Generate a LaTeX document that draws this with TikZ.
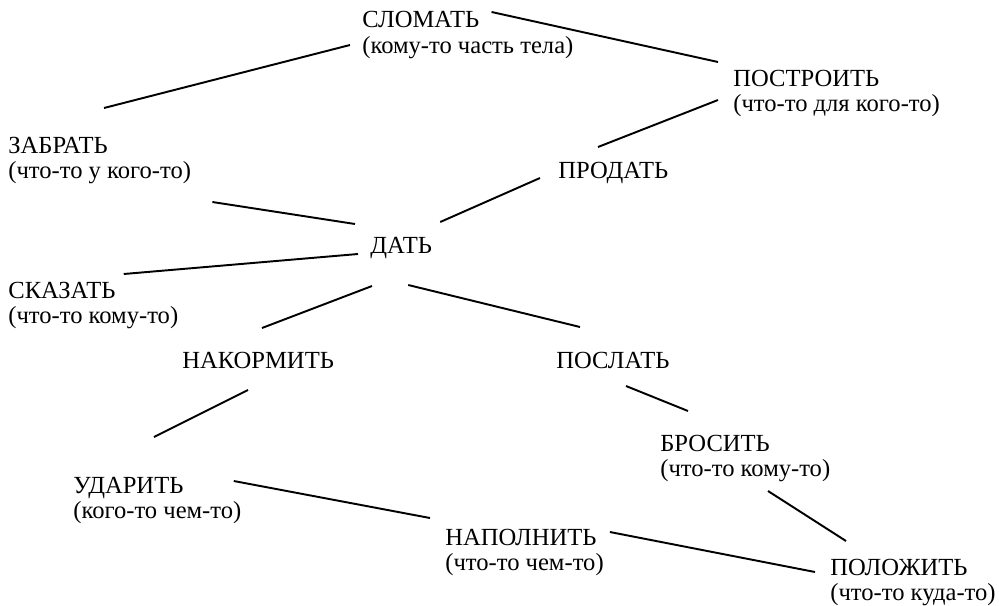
\documentclass[tikz,border=0pt]{standalone}
\usepackage{fontspec}
\setmainfont{Liberation Serif}
\usetikzlibrary{positioning}

\begin{document}
\begin{tikzpicture}[
x=0.02cm, y=-0.02cm,
verb/.style={inner sep=0pt, anchor=base west, font=\fontsize{14}{16}\selectfont},
gloss/.style={inner sep=0pt, anchor=base west, font=\fontsize{14}{16}\selectfont},
link/.style={line width=1.1pt}
]
\useasboundingbox (0,0) rectangle (999,605);

\node[verb] (slomat) at (362,28) {СЛОМАТЬ};
\node[gloss] (slomat-g) at (362,53) {(кому-то часть тела)};
\node[verb] (postroit) at (733,86) {ПОСТРОИТЬ};
\node[gloss] (postroit-g) at (733,111) {(что-то для кого-то)};
\node[verb] (zabrat) at (8,153) {ЗАБРАТЬ};
\node[gloss] (zabrat-g) at (8,178) {(что-то у кого-то)};
\node[verb] (prodat) at (558,178) {ПРОДАТЬ};
\node[verb] (dat) at (370,253) {ДАТЬ};
\node[verb] (skazat) at (8,298) {СКАЗАТЬ};
\node[gloss] (skazat-g) at (8,323) {(что-то кому-то)};
\node[verb] (nakormit) at (182,368) {НАКОРМИТЬ};
\node[verb] (poslat) at (556,368) {ПОСЛАТЬ};
\node[verb] (brosit) at (660,451) {БРОСИТЬ};
\node[gloss] (brosit-g) at (660,476) {(что-то кому-то)};
\node[verb] (udarit) at (73,493) {УДАРИТЬ};
\node[gloss] (udarit-g) at (73,518) {(кого-то чем-то)};
\node[verb] (napolnit) at (445,545) {НАПОЛНИТЬ};
\node[gloss] (napolnit-g) at (445,570) {(что-то чем-то)};
\node[verb] (polozhit) at (830,575) {ПОЛОЖИТЬ};
\node[gloss] (polozhit-g) at (830,600) {(что-то куда-то)};

% links
\draw[link] ([shift={(12,-16)}]slomat.base east) -- ([shift={(-15,-24)}]postroit.base west);
\draw[link] ([shift={(96,-45)}]zabrat.base west) -- ([shift={(-12,-8)}]slomat-g.base west);
\draw[link] ([shift={(40,-31)}]prodat.base west) -- ([shift={(-15,-11)}]postroit-g.base west);
\draw[link] ([shift={(8,-31)}]dat.base east) -- ([shift={(-18,0)}]prodat.base west);
\draw[link] ([shift={(21,24)}]zabrat-g.base east) -- ([shift={(-15,-29)}]dat.base west);
\draw[link] ([shift={(8,-24)}]skazat.base east) -- ([shift={(-12,1)}]dat.base west);
\draw[link] ([shift={(2,33)}]dat.base west) -- ([shift={(80,-40)}]nakormit.base west);
\draw[link] ([shift={(-24,32)}]dat.base east) -- ([shift={(24,-41)}]poslat.base west);
\draw[link] ([shift={(66,22)}]nakormit.base west) -- ([shift={(81,-56)}]udarit.base west);
\draw[link] ([shift={(70,18)}]poslat.base west) -- ([shift={(28,-40)}]brosit.base west);
\draw[link] ([shift={(50,-12)}]udarit.base east) -- ([shift={(-15,-27)}]napolnit.base west);
\draw[link] ([shift={(13,-13)}]napolnit.base east) -- ([shift={(-15,-3)}]polozhit.base west);
\draw[link] ([shift={(108,15)}]brosit-g.base west) -- ([shift={(16,-34)}]polozhit.base west);
\end{tikzpicture}
\end{document}
